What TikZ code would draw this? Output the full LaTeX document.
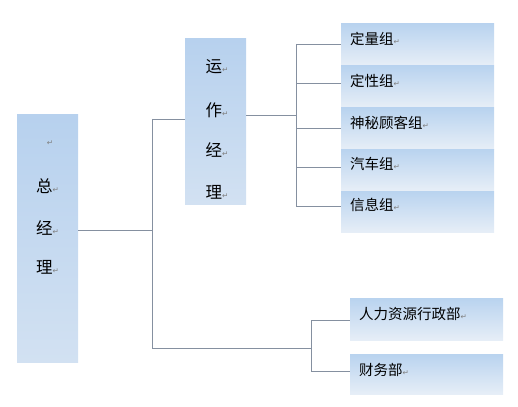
\documentclass[tikz,border=0pt]{standalone}
\usepackage{fontspec}
\newfontfamily\cjk{Noto Sans CJK SC}
\newfontfamily\dejavu{DejaVu Sans}
\usetikzlibrary{calc}
\definecolor{boxtop}{HTML}{B7D1EE}
\definecolor{boxbot}{HTML}{D2E1F2}
\definecolor{grptop}{HTML}{B9D3EF}
\definecolor{grpbot}{HTML}{E6EEF7}
\definecolor{linec}{HTML}{8590A0}
\newcommand\retmk{{\dejavu\fontsize{7.5}{7.5}\selectfont\textcolor{gray}{↵}}}
\begin{document}
\begin{tikzpicture}[x=1pt,y=-1pt,
  bigbox/.style={draw=none,top color=boxtop,bottom color=boxbot,minimum width=61pt,inner sep=0pt},
  grpbox/.style={draw=none,top color=grptop,bottom color=grpbot,minimum width=153pt,minimum height=41pt,inner sep=0pt},
  vtxt/.style={font=\cjk\fontsize{16.5}{16.5}\selectfont,inner sep=0pt},
  gtxt/.style={font=\cjk\fontsize{14.5}{15}\selectfont,inner sep=0pt,anchor=west},
  conn/.style={draw=linec,line width=0.8pt}]
\useasboundingbox (0,0) rectangle (518,406);
% boxes
\node[bigbox,minimum height=247pt] (gm) at (47.5,238.5) {};
\node[bigbox,minimum height=165pt] (om) at (215.5,121.5) {};
\node[grpbox] (g1) at (417.5,44.5) {};
\node[grpbox] (g2) at (417.5,86.5) {};
\node[grpbox] (g3) at (417.5,128.5) {};
\node[grpbox] (g4) at (417.5,169.5) {};
\node[grpbox] (g5) at (417.5,211.5) {};
\node[grpbox,minimum height=42pt] (hr) at (426.5,319) {};
\node[grpbox,minimum height=40pt] (fin) at (426.5,374) {};
% texts
\node[vtxt] (gm0) at (50,143) {\retmk};
\node[vtxt] (gm1) at (47.5,186) {总\retmk};
\node[vtxt] (gm2) at (47.5,228) {经\retmk};
\node[vtxt] (gm3) at (47.5,267) {理\retmk};
\node[vtxt] (om1) at (217,67) {运\retmk};
\node[vtxt] (om2) at (217,110) {作\retmk};
\node[vtxt] (om3) at (217,150) {经\retmk};
\node[vtxt] (om4) at (217,192) {理\retmk};
\node[gtxt] (t1) at (350,39) {定量组\retmk};
\node[gtxt] (t2) at (350,81) {定性组\retmk};
\node[gtxt] (t3) at (350,123) {神秘顾客组\retmk};
\node[gtxt] (t4) at (350,164) {汽车组\retmk};
\node[gtxt] (t5) at (350,205) {信息组\retmk};
\node[gtxt] (t6) at (359,314) {人力资源行政部\retmk};
\node[gtxt] (t7) at (359,370) {财务部\retmk};
% spine coordinates
\coordinate (s1t) at (152,119);
\coordinate (s1b) at (152,348);
\coordinate (s2t) at (296,44);
\coordinate (s2b) at (296,206);
\coordinate (s3t) at (311,320);
\coordinate (s3b) at (311,371);
% connectors
\draw[conn] (gm.east |- 0,230) -- (152,230);
\draw[conn] (s1t) -- (s1b);
\draw[conn] (s1t) -- (om.west |- s1t);
\draw[conn] (s1b) -- (s3b |- s1b);
\draw[conn] (om.east |- 0,115) -- (296,115);
\draw[conn] (s2t) -- (s2b);
\draw[conn] (s2t) -- (g1.west |- s2t);
\draw[conn] (296,83) -- (g2.west |- 0,83);
\draw[conn] (296,128) -- (g3.west |- 0,128);
\draw[conn] (296,167) -- (g4.west |- 0,167);
\draw[conn] (s2b) -- (g5.west |- s2b);
\draw[conn] (s3t) -- (s3b);
\draw[conn] (s3t) -- (hr.west |- s3t);
\draw[conn] (s3b) -- (fin.west |- s3b);
\end{tikzpicture}
\end{document}
